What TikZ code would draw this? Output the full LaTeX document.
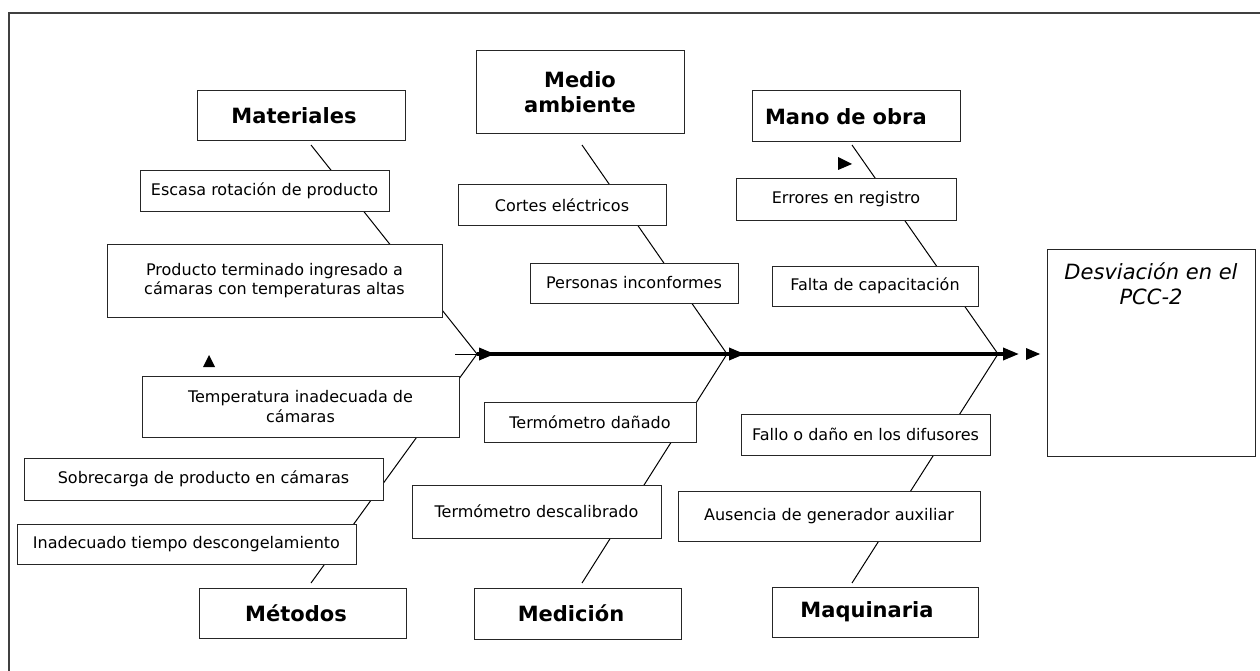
\documentclass[tikz,border=0pt]{standalone}
\usepackage{fontspec}
\setmainfont{DejaVu Sans}
\usetikzlibrary{arrows.meta}

\begin{document}
\begin{tikzpicture}[x=1pt, y=-1pt,
    causa/.style={draw=black!85, line width=1pt, fill=white, inner sep=0pt,
        align=center, font=\fontsize{16}{19.5}\selectfont},
    categoria/.style={causa, font=\fontsize{21}{25}\selectfont\bfseries},
    hueso/.style={line width=1pt},
    eje/.style={line width=3.5pt},
    punta/.style={line width=3.5pt, -{Triangle[length=16pt,width=12pt]}}]

    \useasboundingbox (0,0) rectangle (1260,671);

    % marco
    \draw[black!75, line width=1.2pt] (1260,13) -- (9,13) -- (9,671);

    % puntos de la espina
    \coordinate (cola) at (455,354);
    \coordinate (j1) at (477,354);
    \coordinate (j2) at (727,354);
    \coordinate (j3) at (998,354);

    % extremos de los huesos
    \coordinate (tMat) at (311,145);
    \coordinate (tMed) at (582,145);
    \coordinate (tMan) at (852,145);
    \coordinate (bMet) at (311,583);
    \coordinate (bMdc) at (582,583);
    \coordinate (bMaq) at (852,583);

    % huesos
    \draw[hueso] (tMat) -- (j1) -- (bMet);
    \draw[hueso] (tMed) -- (j2) -- (bMdc);
    \draw[hueso] (tMan) -- (j3) -- (bMaq);

    % espina
    \draw[hueso] (cola) -- (j1);
    \draw[eje] (j1) -- (j3);
    \draw[punta] (j1) -- ++(18,0);
    \draw[punta] (j2) -- ++(18,0);
    \draw[punta] (j3) -- ++(21,0);

    % flechas sueltas
    \fill (1026,348) -- (1040,354) -- (1026,360) -- cycle;
    \fill (203,367) -- (209,355) -- (215,367) -- cycle;
    \fill (838,157) -- (852,164) -- (838,170) -- cycle;

    % Materiales
    \node[categoria, minimum width=208pt, minimum height=50pt] (materiales) at (301,116) {Materiales\hspace{14pt}};
    \node[causa, minimum width=249pt, minimum height=40pt] (escasa) at (264.5,191) {Escasa rotación de producto};
    \node[causa, minimum width=335pt, minimum height=73pt] (producto) at (274.5,280.5) {Producto terminado ingresado a\\cámaras con temperaturas altas};

    % Medio ambiente
    \node[categoria, minimum width=208pt, minimum height=83pt] (medio) at (580,92.5) {Medio\\ambiente};
    \node[causa, minimum width=208pt, minimum height=40pt] (cortes) at (562,205) {Cortes eléctricos};
    \node[causa, minimum width=208pt, minimum height=40pt] (personas) at (634,283) {Personas inconformes};

    % Mano de obra
    \node[categoria, minimum width=208pt, minimum height=51pt, align=left,
        text width=182pt, inner xsep=13pt] (mano) at (856,116.5) {Mano de obra};
    \node[causa, minimum width=220pt, minimum height=41pt] (errores) at (846,199.5) {Errores en registro};
    \node[causa, minimum width=206pt, minimum height=40pt] (falta) at (875,286) {Falta de capacitación};

    % Metodos
    \node[causa, minimum width=317pt, minimum height=61pt] (temperatura) at (300.5,406.5) {Temperatura inadecuada de\\cámaras};
    \node[causa, minimum width=359pt, minimum height=42pt] (sobrecarga) at (203.5,479) {Sobrecarga de producto en cámaras};
    \node[causa, minimum width=339pt, minimum height=40pt] (inadecuado) at (186.5,544) {Inadecuado tiempo descongelamiento};
    \node[categoria, minimum width=207pt, minimum height=50pt] (metodos) at (302.5,613) {Métodos\hspace{13pt}};

    % Medicion
    \node[causa, minimum width=212pt, minimum height=40pt] (danado) at (590,422) {Termómetro dañado};
    \node[causa, minimum width=249pt, minimum height=53pt] (descalibrado) at (536.5,511.5) {Termómetro descalibrado};
    \node[categoria, minimum width=207pt, minimum height=51pt] (medicion) at (577.5,613.5) {Medición\hspace{13pt}};

    % Maquinaria
    \node[causa, minimum width=249pt, minimum height=41pt] (fallo) at (865.5,434.5) {Fallo o daño en los difusores};
    \node[causa, minimum width=302pt, minimum height=50pt] (ausencia) at (829,516) {Ausencia de generador auxiliar};
    \node[categoria, minimum width=206pt, minimum height=50pt] (maquinaria) at (875,612) {Maquinaria\hspace{16pt}};

    % efecto
    \node[causa, minimum width=208pt, minimum height=207pt] (efecto) at (1151,352.5) {};
    \node[anchor=north, inner sep=0pt, align=center,
        font=\fontsize{21}{25}\selectfont\itshape] (efecto-txt) at (1151,263) {Desviación en el\\PCC-2};

\end{tikzpicture}
\end{document}
